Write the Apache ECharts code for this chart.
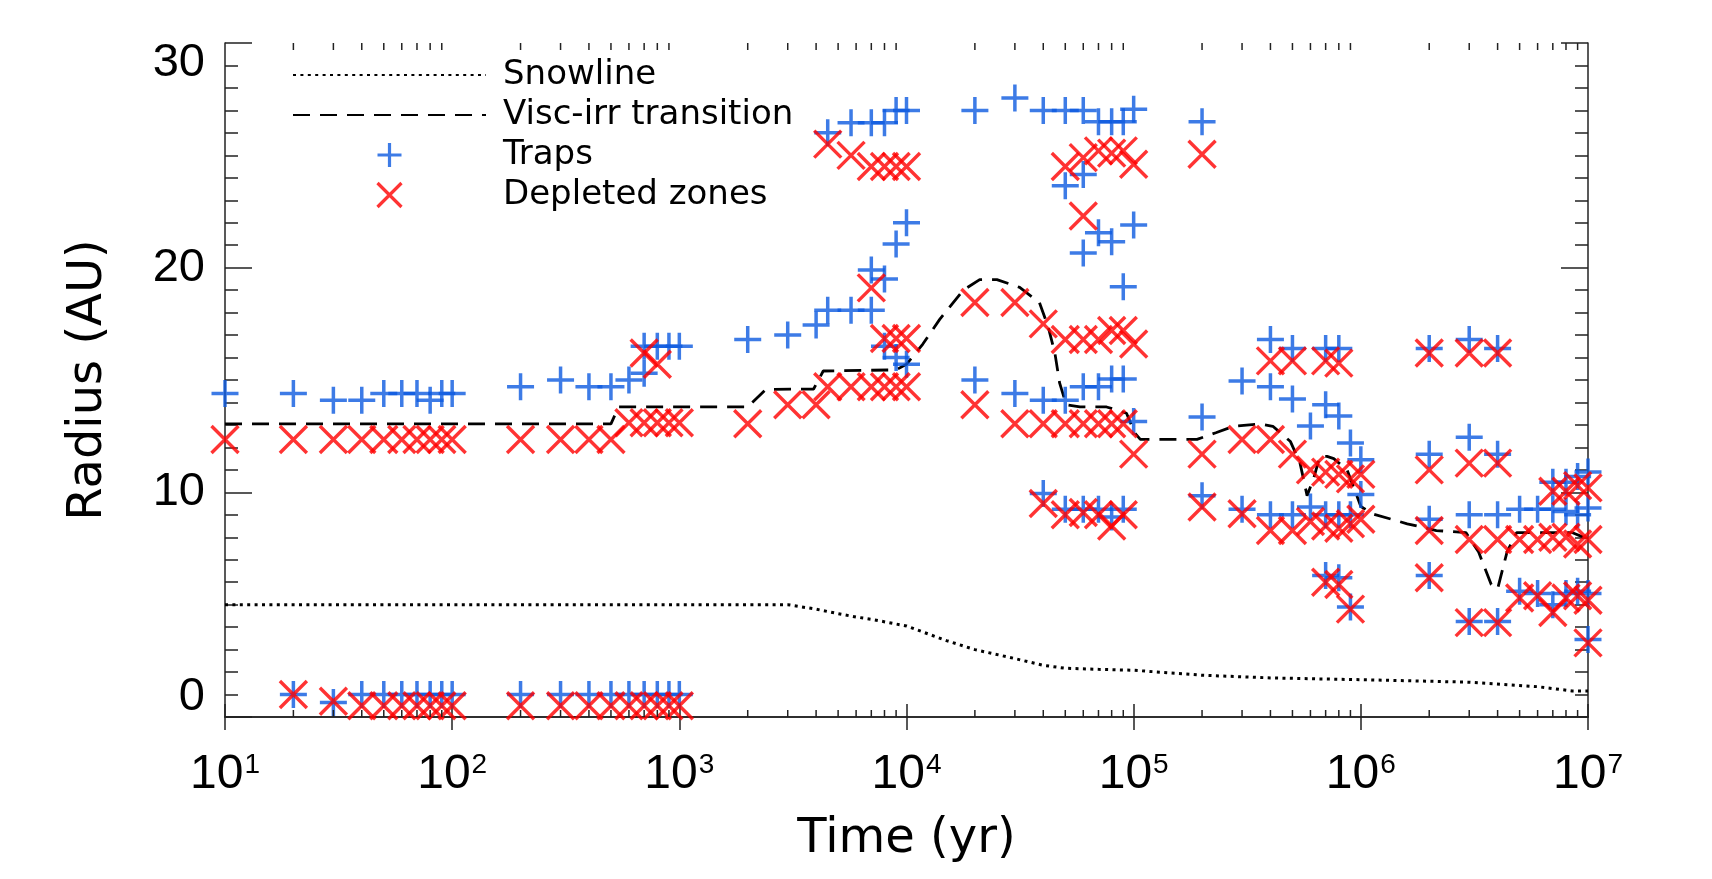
<!DOCTYPE html>
<html lang="en">
<head>
<meta charset="UTF-8">
<title>Traps and depleted zones</title>
<style>
  html, body { margin: 0; padding: 0; background: #fff; }
  #chart { width: 1712px; height: 879px; }
</style>
</head>
<body>
<div id="chart"></div>
<script src="https://cdn.jsdelivr.net/npm/echarts@6/dist/echarts.min.js"></script>
<script>
// sample times (yr)
const times = [10, 20, 30, 40, 50, 60, 70, 80, 90, 100,
  200, 300, 400, 500, 600, 700, 800, 900, 1000,
  2000, 3000, 4000, 4500, 5700, 7000, 8000, 9000, 1e4,
  2e4, 3e4, 4e4, 5e4, 6e4, 7e4, 8e4, 9e4, 1e5,
  2e5, 3e5, 4e5, 5e5, 6e5, 7e5, 8e5, 9e5, 1e6,
  2e6, 3e6, 4e6, 5e6, 6e6, 7e6, 8e6, 9e6, 1e7];

// trap radii (AU) at each time
const trapRadii = [
  [14.4], [14.4, 1.0], [14.1, 0.65], [14.1, 1.0], [14.4, 1.0], [14.4, 1.0], [14.4, 1.0], [14.1, 1.0], [14.4, 1.0], [14.4, 1.0],
  [14.7, 1.0], [15.0, 1.0], [14.7, 1.0], [14.7, 1.0], [15.0, 1.0], [16.5, 15.3, 1.0], [16.5, 1.0], [16.5, 1.0], [16.5, 1.0],
  [16.8], [17.0], [17.45], [26.0, 18.1], [26.45, 18.1], [26.45, 19.9, 18.1], [26.45, 19.5, 16.5], [27.0, 21.05, 16.0], [27.0, 22.0, 15.7],
  [27.0, 15.0], [27.55, 14.4], [27.0, 14.1, 9.95], [27.0, 23.65, 14.1, 9.25], [27.0, 24.15, 20.65, 14.7, 9.25],
  [26.5, 21.55, 14.7, 9.25], [26.5, 21.15, 15.05, 8.9], [26.5, 19.15, 15.05, 9.25], [27.05, 21.9, 13.15],
  [26.5, 13.35, 9.85], [14.95, 9.25], [16.8, 14.7, 9.0], [16.4, 14.15, 9.0], [12.95, 9.35],
  [16.4, 13.9, 9.0, 6.3], [16.4, 13.4, 9.0, 6.2], [12.2, 9.0, 4.9], [11.45, 9.9],
  [16.4, 11.7, 8.8, 6.3], [16.8, 12.45, 9.0, 4.25], [16.4, 11.7, 9.0, 4.25], [9.25, 5.6], [9.25, 5.5],
  [10.45, 9.25, 5.0], [10.45, 9.15, 5.5], [10.7, 9.0, 5.6], [10.9, 9.3, 5.5, 3.45]
];

// depleted zone radii (AU) at each time
const depletedRadii = [
  [12.35], [12.35, 1.0], [12.35, 0.7], [12.35, 0.5], [12.35, 0.5], [12.35, 0.5], [12.35, 0.5], [12.35, 0.5], [12.35, 0.5], [12.35, 0.5],
  [12.35, 0.5], [12.35, 0.5], [12.35, 0.5], [12.35, 0.5], [13.1, 0.5], [16.2, 13.1, 0.5], [15.7, 13.1, 0.5], [13.1, 0.5], [13.1, 0.5],
  [13.05], [13.9], [13.9], [25.5, 14.7], [25.0, 14.7], [24.5, 19.1, 14.7], [24.5, 16.85, 14.7], [24.5, 16.85, 14.7], [24.5, 16.85, 14.7],
  [18.45, 13.9], [18.45, 13.05], [17.5, 13.05, 9.5], [24.5, 16.8, 13.05, 9.0], [24.9, 22.3, 16.8, 13.05, 9.1],
  [25.2, 16.8, 13.05, 9.0], [25.1, 17.2, 13.05, 8.5], [25.2, 17.2, 13.05, 9.0], [24.6, 16.6, 11.7],
  [25.05, 11.7, 9.35], [12.35, 9.05], [15.85, 12.35, 8.3], [15.85, 11.7, 8.3], [11.0, 8.7],
  [15.85, 10.9, 8.5, 6.0], [15.75, 10.8, 8.4, 5.9], [10.6, 8.6, 4.8], [10.8, 8.8],
  [16.2, 11.0, 8.3, 6.2], [16.2, 11.3, 7.9, 4.2], [16.2, 11.3, 7.9, 4.2], [7.9, 5.3], [7.9, 5.4],
  [10.05, 8.0, 4.65], [10.05, 8.0, 5.3], [10.3, 7.7, 5.4], [10.2, 7.9, 5.2, 3.3]
];

// snowline
const snowTimes = [10, 3000, 4000, 5000, 6000, 7000, 1e4, 1.5e4, 2e4, 3e4, 4e4, 5e4, 7e4, 1e5, 2e5, 4e5, 1e6, 3e6, 6e6, 8.5e6, 1e7];
const snowRadii = [5.0, 5.0, 4.8, 4.6, 4.45, 4.35, 4.05, 3.4, 3.0, 2.6, 2.3, 2.17, 2.12, 2.08, 1.86, 1.74, 1.66, 1.55, 1.35, 1.16, 1.16];

// viscous / irradiated transition
const viscTimes = [10, 500, 540, 2000, 2400, 3900, 4300, 9000, 1e4, 1.18e4, 1.4e4, 1.78e4, 2.1e4, 2.5e4, 3.15e4, 3.85e4,
  4.2e4, 4.5e4, 4.72e4, 5.05e4, 5.8e4, 7.6e4, 9.3e4, 1.01e5, 1.07e5, 1.9e5, 2.3e5, 2.75e5, 3.6e5, 4.1e5, 4.9e5,
  5.4e5, 5.8e5, 6.2e5, 6.6e5, 7.1e5, 7.6e5, 8.7e5, 9.6e5, 1e6, 1.13e6, 1.6e6, 2.15e6, 2.9e6, 3.3e6, 3.75e6, 4.0e6,
  4.4e6, 4.85e6, 8.5e6, 1e7];
const viscRadii = [13.05, 13.05, 13.8, 13.8, 14.58, 14.6, 15.4, 15.45, 15.7, 16.6, 17.7, 19.0, 19.47, 19.47, 19.12, 18.44,
  17.38, 16.2, 14.87, 13.9, 13.8, 13.8, 13.52, 12.65, 12.36, 12.36, 12.65, 12.94, 13.04, 12.94, 12.26,
  11.3, 9.85, 10.62, 11.6, 11.6, 11.5, 11.0, 9.85, 9.37, 9.04, 8.6, 8.3, 8.21, 7.34, 5.9, 5.7,
  7.34, 8.21, 8.21, 7.92];

const yTicks = [0, 10, 20, 30];

const BLUE = '#0c5ae0';
const RED = '#ff0000';
const AXIS = '#222';

function pairs(ts, rs) {
  const out = [];
  ts.forEach((t, i) => {
    const r = rs[i];
    if (Array.isArray(r)) r.forEach(v => out.push([t, v]));
    else out.push([t, r]);
  });
  return out;
}

// log minor tick positions 2..9 x 10^n
const minorTimes = [];
for (let n = 1; n < 7; n++) {
  for (let k = 2; k < 10; k++) minorTimes.push([k * Math.pow(10, n), 0]);
}

const chart = echarts.init(document.getElementById('chart'));

const tickLabelFont = 'Liberation Sans';
const nameFont = 'DejaVu Sans';
const hidden = { color: 'rgba(0,0,0,0)', borderWidth: 0 };

const option = {
  animation: false,
  backgroundColor: '#fff',
  grid: { left: 225, top: 43, width: 1363, height: 674 },
  legend: {
    orient: 'vertical',
    left: 287,
    top: 53,
    itemWidth: 193,
    itemHeight: 24,
    itemGap: 6,
    selectedMode: false,
    textStyle: { fontFamily: nameFont, fontSize: 34, color: '#000', padding: [0, 0, 0, 12], lineHeight: 24 },
    data: [
      { name: 'Snowline', itemStyle: hidden },
      { name: 'Visc-irr transition', itemStyle: hidden },
      { name: 'Traps', itemStyle: { color: 'rgba(0,0,0,0)', borderColor: BLUE, borderWidth: 3.2 } },
      { name: 'Depleted zones', itemStyle: { color: 'rgba(0,0,0,0)', borderColor: RED, borderWidth: 3.2 } }
    ]
  },
  xAxis: [
    {
      type: 'log', logBase: 10, min: 10, max: 1e7, splitNumber: 6, position: 'bottom',
      axisLine: { show: true, lineStyle: { color: AXIS, width: 1.5 } },
      axisTick: { show: true, inside: true, length: 13, lineStyle: { color: AXIS, width: 1.5 } },
      splitLine: { show: false },
      axisLabel: {
        margin: 34,
        formatter: v => '{b|10}{s|' + Math.round(Math.log10(v)) + '}',
        rich: {
          b: { fontFamily: tickLabelFont, fontSize: 48, color: '#000' },
          s: { fontFamily: tickLabelFont, fontSize: 28, color: '#000', verticalAlign: 'top', padding: [0, 0, 0, 1] }
        }
      },
      name: 'Time (yr)', nameLocation: 'middle', nameGap: 99,
      nameTextStyle: { fontFamily: nameFont, fontSize: 48, color: '#000' }
    },
    {
      type: 'log', logBase: 10, min: 10, max: 1e7, splitNumber: 6, position: 'top',
      axisLine: { show: true, lineStyle: { color: AXIS, width: 1.5 } },
      axisTick: { show: true, inside: true, length: 13, lineStyle: { color: AXIS, width: 1.5 } },
      splitLine: { show: false },
      axisLabel: { show: false }
    }
  ],
  yAxis: [
    {
      type: 'value', min: 0, max: 30, interval: 10, position: 'left',
      axisLine: { show: true, lineStyle: { color: AXIS, width: 1.5 } },
      axisTick: { show: true, inside: true, length: 27, lineStyle: { color: AXIS, width: 1.5 } },
      minorTick: { show: true, splitNumber: 10, length: 13, lineStyle: { color: AXIS, width: 1.5 } },
      splitLine: { show: false },
      axisLabel: {
        margin: 20,
        formatter: v => v === yTicks[3] ? '{t|' + v + '}' : (v === yTicks[0] ? '{d|' + v + '}' : '{n|' + v + '}'),
        rich: {
          n: { fontFamily: tickLabelFont, fontSize: 47, color: '#000' },
          t: { fontFamily: tickLabelFont, fontSize: 47, color: '#000', padding: [40, 0, 0, 0] },
          d: { fontFamily: tickLabelFont, fontSize: 47, color: '#000', padding: [0, 0, 40, 0] }
        }
      },
      name: 'Radius (AU)', nameLocation: 'middle', nameGap: 112, nameRotate: 90,
      nameTextStyle: { fontFamily: nameFont, fontSize: 48, color: '#000' }
    },
    {
      type: 'value', min: 0, max: 30, interval: 10, position: 'right',
      axisLine: { show: true, lineStyle: { color: AXIS, width: 1.5 } },
      axisTick: { show: true, inside: true, length: 27, lineStyle: { color: AXIS, width: 1.5 } },
      minorTick: { show: true, splitNumber: 10, length: 13, lineStyle: { color: AXIS, width: 1.5 } },
      splitLine: { show: false },
      axisLabel: { show: false }
    }
  ],
  series: [
    {
      name: 'Snowline', type: 'line', data: pairs(snowTimes, snowRadii),
      symbol: 'none', silent: true, z: 2,
      lineStyle: { color: '#000', width: 3, type: [3, 4.4] },
      itemStyle: hidden
    },
    {
      name: 'Visc-irr transition', type: 'line', data: pairs(viscTimes, viscRadii),
      symbol: 'none', silent: true, z: 2,
      lineStyle: { color: '#000', width: 2.8, type: [17, 10] },
      itemStyle: hidden
    },
    {
      name: 'Traps', type: 'scatter', data: pairs(times, trapRadii),
      symbol: 'path://M0,5L10,5M5,0L5,10', symbolSize: 27, silent: true, z: 3,
      itemStyle: { color: 'rgba(0,0,0,0)', borderColor: BLUE, borderWidth: 3.5 }
    },
    {
      name: 'Depleted zones', type: 'scatter', data: pairs(times, depletedRadii),
      symbol: 'path://M0,0L10,10M10,0L0,10', symbolSize: 27, silent: true, z: 4,
      itemStyle: { color: 'rgba(0,0,0,0)', borderColor: RED, borderWidth: 3.4 }
    },
    {
      name: 'minor log ticks', type: 'custom', data: minorTimes, silent: true, z: 5,
      renderItem: (params, api) => {
        const cs = params.coordSys;
        const x = api.coord([api.value(0), 0])[0];
        const st = { stroke: AXIS, lineWidth: 1.5 };
        return {
          type: 'group',
          children: [
            { type: 'line', shape: { x1: x, y1: cs.y + cs.height, x2: x, y2: cs.y + cs.height - 7 }, style: st },
            { type: 'line', shape: { x1: x, y1: cs.y, x2: x, y2: cs.y + 7 }, style: st }
          ]
        };
      }
    }
  ]
};

chart.setOption(option);
</script>
</body>
</html>
